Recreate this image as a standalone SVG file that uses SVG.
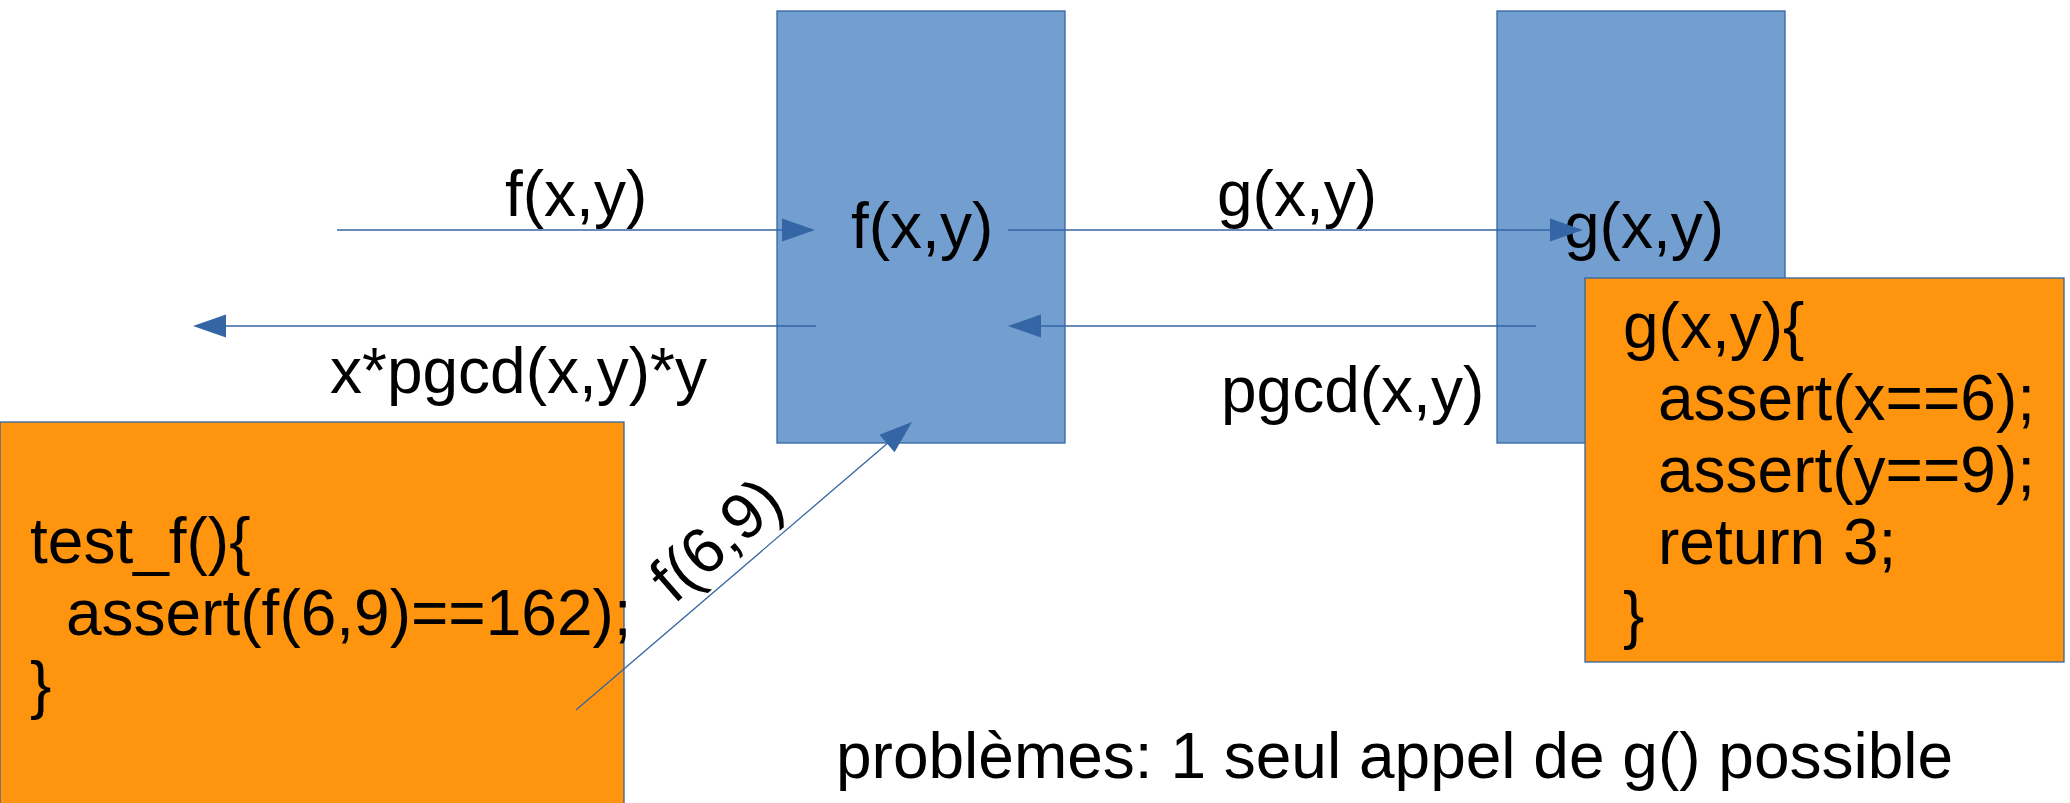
<svg xmlns="http://www.w3.org/2000/svg" width="2070" height="803" viewBox="0 0 2070 803">
<defs>
<style>
.blue{fill:#729fcf;stroke:#3465a4;stroke-width:1.3}
.orange{fill:#ff950e;stroke:#3465a4;stroke-width:1.3}
text{font-family:"Liberation Sans",Arial,sans-serif;font-size:64px;fill:#000}
.conn{stroke:#3465a4;stroke-width:1.3;fill:none}
.head{fill:#3465a4}
</style>
</defs>
<rect width="2070" height="803" fill="#fff"/>
<g id="node-f">
<rect class="blue" x="777" y="11" width="288" height="432"/>
<text x="851" y="248">f(x,y)</text>
</g>
<g id="node-g">
<rect class="blue" x="1497" y="11" width="288" height="432"/>
<text x="1564" y="248">g(x,y)</text>
</g>
<g id="node-g-code">
<rect class="orange" x="1585" y="278" width="479" height="384"/>
<text x="1623" y="348">g(x,y){</text>
<text x="1658" y="420">assert(x==6);</text>
<text x="1658" y="492">assert(y==9);</text>
<text x="1658" y="564">return 3;</text>
<text x="1623" y="637">}</text>
</g>
<g id="node-test-f">
<rect class="orange" x="0" y="422" width="624" height="400"/>
<text x="30" y="563">test_f(){</text>
<text x="66" y="635">assert(f(6,9)==162);</text>
<text x="30" y="707">}</text>
</g>
<g id="connectors">
<line class="conn" x1="337" y1="230" x2="785" y2="230"/>
<polygon class="head" points="815,230 782,218.5 782,241.5"/>
<line class="conn" x1="816" y1="326" x2="223" y2="326"/>
<polygon class="head" points="193,326 226,314.5 226,337.5"/>
<line class="conn" x1="1008" y1="230" x2="1553" y2="230"/>
<polygon class="head" points="1583,230 1550,218.5 1550,241.5"/>
<line class="conn" x1="1536" y1="326" x2="1040" y2="326"/>
<polygon class="head" points="1008,326 1041,314.5 1041,337.5"/>
<line class="conn" x1="576" y1="710" x2="889" y2="442"/>
<polygon class="head" points="912,422 879.5,434.8 894.5,452.2"/>
</g>
<g id="labels">
<text x="505" y="216">f(x,y)</text>
<text x="330" y="393">x*pgcd(x,y)*y</text>
<text x="1217" y="216">g(x,y)</text>
<text x="1221" y="412">pgcd(x,y)</text>
<text transform="translate(674,605) rotate(-41)">f(6,9)</text>
<text x="836" y="778">problèmes: 1 seul appel de g() possible</text>
</g>
</svg>
